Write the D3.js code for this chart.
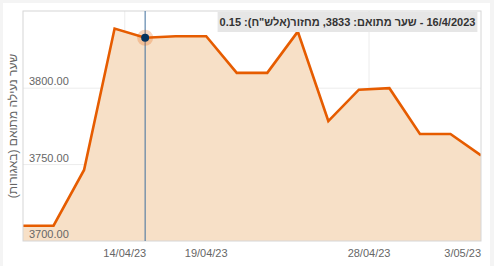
<!DOCTYPE html>
<html>
<head>
<meta charset="utf-8">
<script src="https://cdn.jsdelivr.net/npm/d3@7"></script>
<style>
    body { margin: 0; background: #f4f4f4; font-family: 'Liberation Sans', Arial, sans-serif; }
    svg { display: block; }
</style>
</head>
<body>
<svg id="chart" width="494" height="266"></svg>
<script>
// trading days (ordinal x axis)
const dates = ['2023-04-09', '2023-04-10', '2023-04-11', '2023-04-13', '2023-04-16', '2023-04-17',
    '2023-04-19', '2023-04-20', '2023-04-23', '2023-04-24', '2023-04-25', '2023-04-27',
    '2023-04-30', '2023-05-01', '2023-05-02', '2023-05-03'];
const prices = [3710, 3710, 3746.5, 3839, 3833, 3834, 3834, 3810, 3810, 3837,
    3778.5, 3799, 3800, 3770, 3770, 3756];

const xTicks = ['2023-04-14', '2023-04-19', '2023-04-28', '2023-05-03'];
const xGridTicks = ['2023-04-14', '2023-04-28'];
const yTicks = [3700, 3750, 3800];
const yDomain = [3700, 3850.5];

const yTitle = 'שער נעילה מתואם (באגורות)';
const hoverIndex = 4;
const hoverTurnover = '0.15';

const parseDate = d3.timeParse('%Y-%m-%d');
const data = dates.map((d, i) => ({ i: i, date: parseDate(d), price: prices[i] }));

class PriceChart {
    constructor (_parentElement, data) {
        this.parentElement = _parentElement;
        this.data = data;
        this.initViz();
    };

    // place a calendar date on the ordinal (trading day) axis
    ordinal (date) {
        const viz = this;
        const d = viz.data;
        for (let k = 0; k < d.length - 1; k++) {
            if (date >= d[k].date && date < d[k + 1].date) {
                return k + (date - d[k].date) / (d[k + 1].date - d[k].date);
            }
        }
        return d.length - 1;
    };

    initViz () {
        const viz = this;
        viz.svg = d3.select(viz.parentElement);

        viz.margin = {top: 11, right: 13, bottom: 25, left: 23};
        viz.width = 494 - viz.margin.left - viz.margin.right;
        viz.height = 266 - viz.margin.top - viz.margin.bottom;

        // white panel
        viz.svg.append('rect')
            .attr('x', 3).attr('y', 3)
            .attr('width', 487).attr('height', 263)
            .attr('fill', '#fff');

        viz.g = viz.svg.append('g')
            .attr('transform', 'translate(' + viz.margin.left + ',' + viz.margin.top + ')');

        viz.xScale = d3.scaleLinear().domain([0, viz.data.length - 1]).range([0, viz.width]);
        viz.yScale = d3.scaleLinear().domain(yDomain).range([viz.height, 0]);

        // grid
        viz.g.append('g')
            .selectAll('line')
            .data(yTicks.slice(1))
            .join('line')
            .attr('x1', 0).attr('x2', viz.width)
            .attr('y1', d => viz.yScale(d)).attr('y2', d => viz.yScale(d))
            .attr('stroke', '#ececec');

        viz.g.append('g')
            .selectAll('line')
            .data(xGridTicks)
            .join('line')
            .attr('x1', d => viz.xScale(viz.ordinal(parseDate(d))))
            .attr('x2', d => viz.xScale(viz.ordinal(parseDate(d))))
            .attr('y1', 0).attr('y2', viz.height)
            .attr('stroke', '#ececec');

        viz.g.append('defs').append('clipPath')
            .attr('id', 'plot-clip')
            .append('rect')
            .attr('width', viz.width).attr('height', viz.height);

        const area = d3.area()
            .x(d => viz.xScale(d.i))
            .y0(viz.height)
            .y1(d => viz.yScale(d.price));

        const line = d3.line()
            .x(d => viz.xScale(d.i))
            .y(d => viz.yScale(d.price));

        const plot = viz.g.append('g').attr('clip-path', 'url(#plot-clip)');

        plot.append('path')
            .attr('d', area(viz.data))
            .attr('fill', '#f7e0c7');

        plot.append('path')
            .attr('d', line(viz.data))
            .attr('fill', 'none')
            .attr('stroke', '#e65c00')
            .attr('stroke-width', 2.6)
            .attr('stroke-linejoin', 'miter');

        // frame
        viz.g.append('rect')
            .attr('x', 0).attr('y', 0)
            .attr('width', viz.width).attr('height', viz.height)
            .attr('fill', 'none')
            .attr('stroke', '#d6d6d6');

        // y labels inside plot
        viz.g.append('g')
            .selectAll('text')
            .data(yTicks)
            .join('text')
            .attr('x', 6)
            .attr('y', d => viz.yScale(d) - 3)
            .attr('font-size', '11px')
            .attr('fill', '#666')
            .text(d => d3.format('.2f')(d));

        // x labels
        const fmt = d3.timeFormat('%d/%m/%y');
        viz.g.append('g')
            .selectAll('text')
            .data(xTicks)
            .join('text')
            .attr('x', d => viz.xScale(viz.ordinal(parseDate(d))))
            .attr('y', viz.height + 16)
            .attr('font-size', '11px')
            .attr('fill', '#666')
            .attr('text-anchor', (d, i) => i === xTicks.length - 1 ? 'end' : 'middle')
            .text(d => fmt(parseDate(d)).replace(/^0/, ''));

        // y title
        viz.svg.append('text')
            .attr('transform', 'translate(17,' + (viz.margin.top + viz.height / 2) + ') rotate(-90)')
            .attr('direction', 'rtl')
            .attr('text-anchor', 'middle')
            .attr('font-size', '12px')
            .attr('fill', '#666')
            .text(yTitle);

        // hover state
        const hd = viz.data[hoverIndex];
        const hx = viz.xScale(hd.i), hy = viz.yScale(hd.price);

        viz.g.append('line')
            .attr('x1', hx).attr('x2', hx)
            .attr('y1', 0).attr('y2', viz.height)
            .attr('stroke', '#3f6e9c')
            .attr('stroke-width', 1);

        viz.g.append('circle')
            .attr('cx', hx).attr('cy', hy).attr('r', 8)
            .attr('fill', '#e65c00').attr('fill-opacity', 0.25);

        viz.g.append('circle')
            .attr('cx', hx).attr('cy', hy).attr('r', 4)
            .attr('fill', '#07335e');

        // tooltip
        const tipText = d3.timeFormat('%-d/%-m/%Y')(hd.date) + ' - שער מתואם: ' + hd.price +
            ', מחזור(אלש"ח): ' + hoverTurnover;
        const tip = viz.svg.append('g');
        const tipRect = tip.append('rect')
            .attr('fill', '#e6e6e6');
        const tipLabel = tip.append('text')
            .attr('direction', 'rtl')
            .attr('text-anchor', 'middle')
            .attr('font-size', '11px')
            .attr('font-weight', 'bold')
            .attr('fill', '#333')
            .attr('x', 347.5)
            .attr('y', 26)
            .text(tipText);
        const bb = tipLabel.node().getBBox();
        tipRect.attr('x', bb.x - 2).attr('y', 12)
            .attr('width', bb.width + 4).attr('height', 20);
    };
}

new PriceChart('#chart', data);
</script>
</body>
</html>
